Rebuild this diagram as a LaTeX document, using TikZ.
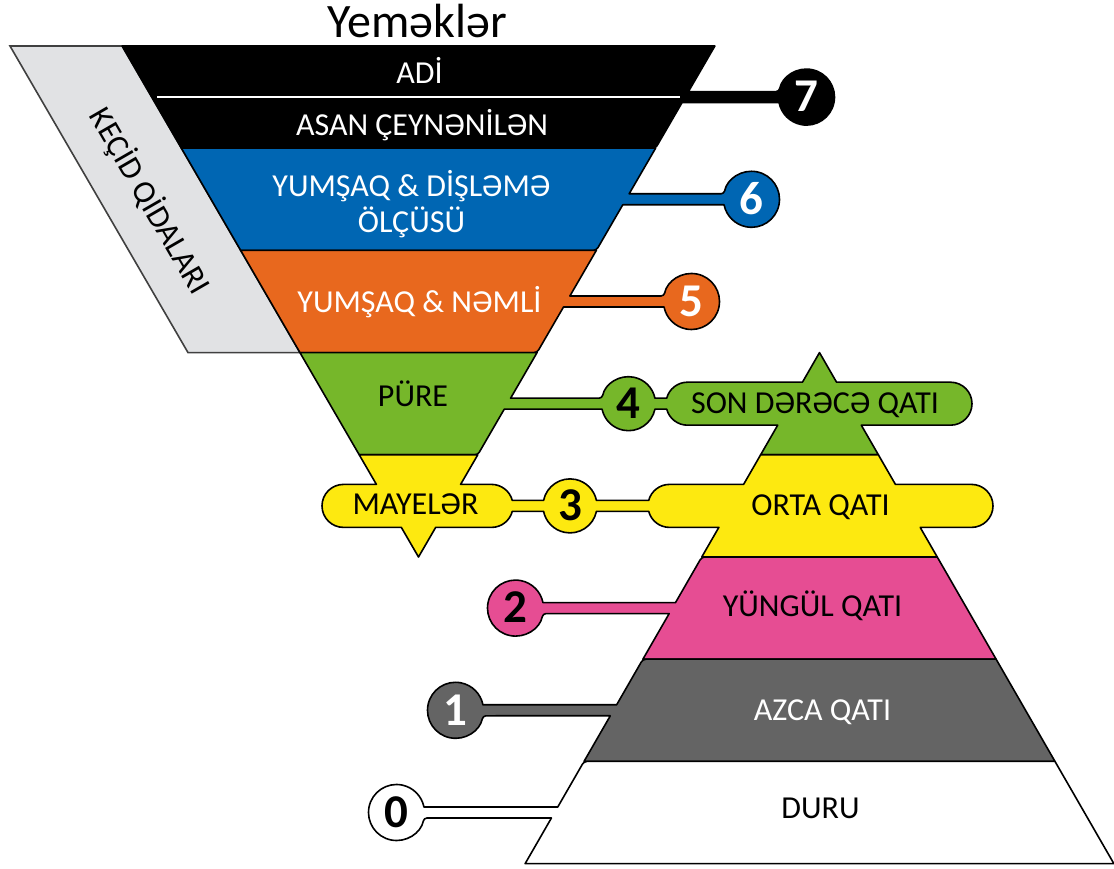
\documentclass[tikz,border=0pt]{standalone}
\usepackage{fontspec}
\setmainfont{Carlito}
\usetikzlibrary{calc}
\definecolor{cblack}{HTML}{000000}
\definecolor{cblue}{HTML}{0066B3}
\definecolor{corange}{HTML}{E8681E}
\definecolor{cgreen}{HTML}{76B72A}
\definecolor{cyellow}{HTML}{FDE910}
\definecolor{cpink}{HTML}{E64D93}
\definecolor{cgray}{HTML}{646464}
\definecolor{clight}{HTML}{E1E2E4}
\definecolor{cedge}{HTML}{404040}
\newcommand\FL[1]{{418.5-0.58*(#1-311)}}
\newcommand\FR[1]{{418.5+0.58*(#1-311)}}
\newcommand\PL[1]{{819.5-0.576*(515.4-#1)}}
\newcommand\PR[1]{{819.5+0.576*(515.4-#1)}}
\tikzset{
  band/.style={draw=black, line width=1.6pt, line join=round},
  lab/.style={font=\fontsize{32}{38}\selectfont, inner sep=0pt, text height=20.6pt, text depth=0pt},
  num/.style={font=\bfseries\fontsize{47}{47}\selectfont, inner sep=0pt, text height=29.7pt, text depth=0pt},
  rc/.style={rounded corners=3pt},
}
\begin{document}
\begin{tikzpicture}[x=1pt,y=1pt]
\useasboundingbox (0,0) rectangle (1114,868);
\fill[white] (0,0) rectangle (1114,868);
% centres
\coordinate (c7) at (806.5,770.9);
\coordinate (c6) at (751.5,668.7);
\coordinate (c5) at (691.5,566.5);
\coordinate (c4) at (628.5,464.3);
\coordinate (c3) at (570,362.1);
\coordinate (c2) at (515.5,259.9);
\coordinate (c1) at (455.5,157.7);
\coordinate (c0) at (396.5,55.5);
\coordinate (p4l) at (687.5,464.3);
\coordinate (p4r) at (950.5,464.3);
\coordinate (m3l) at (343.5,362.1);
\coordinate (m3r) at (491.5,362.1);
\coordinate (o3l) at (669.5,362.1);
\coordinate (o3r) at (971.5,362.1);
% transition parallelogram
\path[fill=clight, draw=cedge, line width=1.6pt] (10,822) -- (\FL{822},822) -- (\FL{515.4},515.4) -- (188,515.4) -- cycle;
% level 7 black
\path[band, fill=cblack] (\FL{822},822) -- (\FR{822},822) -- (\FR{776.4},776.4) [rc] -- ($(c7)+(168.67:28)$) [sharp corners] arc[start angle=168.67,end angle=-168.67,radius=28] -- (\FR{765.4},765.4) [rc] -- (\FR{719.8},719.8) [sharp corners] -- (\FL{719.8},719.8) -- cycle;
% level 6 blue
\path[band, fill=cblue] (\FL{719.8},719.8) -- (\FR{719.8},719.8) -- (\FR{674.2},674.2) [rc] -- ($(c6)+(168.67:28)$) [sharp corners] arc[start angle=168.67,end angle=-168.67,radius=28] -- (\FR{663.2},663.2) [rc] -- (\FR{617.6},617.6) [sharp corners] -- (\FL{617.6},617.6) -- cycle;
% level 5 orange
\path[band, fill=corange] (\FL{617.6},617.6) -- (\FR{617.6},617.6) -- (\FR{572},572) [rc] -- ($(c5)+(168.67:28)$) [sharp corners] arc[start angle=168.67,end angle=-168.67,radius=28] -- (\FR{561},561) [rc] -- (\FR{515.4},515.4) [sharp corners] -- (\FL{515.4},515.4) -- cycle;
% level 4 green
\path[band, fill=cgreen] (\FL{515.4},515.4) -- (\FR{515.4},515.4) -- (\FR{469.8},469.8) [rc] -- ($(c4)+(168.25:27)$) [sharp corners] arc[start angle=168.25,end angle=11.75,radius=27]
  -- ($(p4l)+(165.18:21.5)$) arc[start angle=165.18,end angle=90,radius=21.5]
  -- (\PL{485.8},485.8) -- (819.5,515.4) -- (\PR{485.8},485.8) -- ($(p4r)+(90:21.5)$) arc[start angle=90,end angle=-90,radius=21.5]
  -- (\PR{442.8},442.8) -- (\PR{413.2},413.2) -- (\PL{413.2},413.2) -- (\PL{442.8},442.8)
  -- ($(p4l)+(270:21.5)$) arc[start angle=270,end angle=194.82,radius=21.5]
  -- ($(c4)+(-11.75:27)$) arc[start angle=-11.75,end angle=-168.25,radius=27]
  -- (\FR{458.8},458.8) [rc] -- (\FR{413.2},413.2) [sharp corners] -- (\FL{413.2},413.2) -- cycle;
% level 3 yellow
\path[band, fill=cyellow] (\FL{413.2},413.2) -- (\FR{413.2},413.2) -- (\FR{383.6},383.6) -- ($(m3r)+(90:21.5)$) arc[start angle=90,end angle=14.82,radius=21.5]
  -- ($(c3)+(168.25:27)$) arc[start angle=168.25,end angle=11.75,radius=27]
  -- ($(o3l)+(165.18:21.5)$) arc[start angle=165.18,end angle=90,radius=21.5]
  -- (\PL{383.6},383.6) -- (\PL{413.2},413.2) -- (\PR{413.2},413.2) -- (\PR{383.6},383.6)
  -- ($(o3r)+(90:21.5)$) arc[start angle=90,end angle=-90,radius=21.5]
  -- (\PR{340.6},340.6) -- (\PR{311},311) -- (\PL{311},311) -- (\PL{340.6},340.6)
  -- ($(o3l)+(270:21.5)$) arc[start angle=270,end angle=194.82,radius=21.5]
  -- ($(c3)+(-11.75:27)$) arc[start angle=-11.75,end angle=-168.25,radius=27]
  -- ($(m3r)+(-14.82:21.5)$) arc[start angle=-14.82,end angle=-90,radius=21.5]
  -- (\FR{340.6},340.6) -- (418.5,311) -- (\FL{340.6},340.6)
  -- ($(m3l)+(270:21.5)$) arc[start angle=270,end angle=90,radius=21.5]
  -- (\FL{383.6},383.6) -- cycle;
% level 2 pink
\path[band, fill=cpink] (\PR{311},311) -- (\PR{208.8},208.8) -- (\PL{208.8},208.8) -- (\PL{254.4},254.4) [rc] -- ($(c2)+(-11.33:28)$) [sharp corners] arc[start angle=-11.33,end angle=-348.67,radius=28] -- (\PL{265.4},265.4) [rc] -- (\PL{311},311) [sharp corners] -- cycle;
% level 1 gray
\path[band, fill=cgray] (\PR{208.8},208.8) -- (\PR{106.6},106.6) -- (\PL{106.6},106.6) -- (\PL{152.2},152.2) [rc] -- ($(c1)+(-11.33:28)$) [sharp corners] arc[start angle=-11.33,end angle=-348.67,radius=28] -- (\PL{163.2},163.2) [rc] -- (\PL{208.8},208.8) [sharp corners] -- cycle;
% level 0 white
\path[band, fill=white] (\PR{106.6},106.6) -- (\PR{4.4},4.4) -- (\PL{4.4},4.4) -- (\PL{50},50) [rc] -- ($(c0)+(-11.33:28)$) [sharp corners] arc[start angle=-11.33,end angle=-348.67,radius=28] -- (\PL{61},61) [rc] -- (\PL{106.6},106.6) [sharp corners] -- cycle;
% separator in black band
\draw[white, line width=2.4pt] (157,771) -- (680,771);
% numbers
\node[num, text=white] (n7) at (c7) {7};
\node[num, text=white] (n6) at (c6) {6};
\node[num, text=white] (n5) at (c5) {5};
\node[num] (n4) at (c4) {4};
\node[num] (n3) at (c3) {3};
\node[num] (n2) at (c2) {2};
\node[num, text=white] (n1) at (c1) {1};
\node[num] (n0) at (c0) {0};
% labels
\node[font=\fontsize{48}{52}\selectfont, inner sep=0pt, text height=31pt, text depth=0pt] (title) at (417,846) {Yeməklər};
\node[lab, text=white] (l7a) at (419.5,795) {ADİ};
\node[lab, text=white] (l7b) at (422,743) {ASAN ÇEYNƏNİLƏN};
\node[font=\fontsize{32}{36}\selectfont, inner sep=0pt, align=center, text=white] (l6) at (411.5,664) {YUMŞAQ \& DİŞLƏMƏ\\ÖLÇÜSÜ};
\node[lab, text=white] (l5) at (419.5,566) {YUMŞAQ \& NƏMLİ};
\node[lab] (l4f) at (413,472) {PÜRE};
\node[lab] (l3f) at (415.5,364) {MAYELƏR};
\node[lab] (l4p) at (815,465) {SON DƏRƏCƏ QATI};
\node[lab] (l3p) at (820.5,363) {ORTA QATI};
\node[lab] (l2) at (812.5,262) {YÜNGÜL QATI};
\node[lab, text=white] (l1) at (822.5,158) {AZCA QATI};
\node[lab] (l0) at (820.5,60) {DURU};
\node[lab, rotate=-60] (kecid) at (150,667) {KEÇİD QİDALARI};
\end{tikzpicture}
\end{document}
